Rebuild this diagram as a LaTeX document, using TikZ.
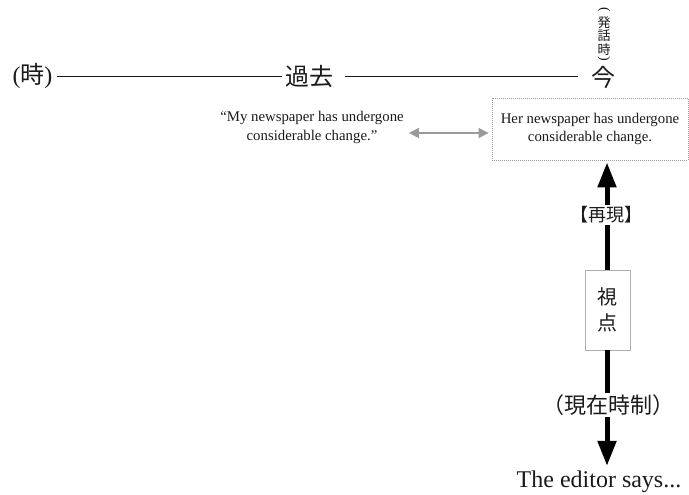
\documentclass[tikz,border=0pt]{standalone}
\usepackage{fontspec}
\setmainfont{Liberation Serif}
\newfontfamily\jp{Noto Sans CJK JP}
\usetikzlibrary{arrows.meta}
\definecolor{ink}{HTML}{1A1A1A}
\definecolor{soft}{HTML}{9A9A9A}
\tikzset{
  x=1pt, y=-1pt,
  every node/.style={text=ink},
  bigjp/.style={font=\jp\fontsize{24}{28}\selectfont, inner sep=3pt},
  sentence/.style={font=\fontsize{14.8}{18.5}\selectfont, align=center, inner sep=2pt},
  vparen/.style={font=\fontsize{14}{14}\selectfont, inner sep=0pt, rotate=-90},
  timeline/.style={draw=ink, line width=0.9pt},
  compare/.style={draw=soft, line width=1.6pt,
    {Triangle[length=10pt,width=10pt]}-{Triangle[length=10pt,width=10pt]}},
  bold arrow/.style={draw=black, line width=5pt,
    -{Triangle[length=25pt,width=18pt]}},
  tag/.style={fill=white, inner sep=2pt},
}
\begin{document}
\begin{tikzpicture}
\useasboundingbox (0,0) rectangle (689,495);

% time axis
\node[font=\fontsize{24}{28}\selectfont, inner sep=4pt] (ji) at (32.5,76) {(\jp 時\rmfamily)};
\node[bigjp] (kako) at (309,76) {過去};
\node[bigjp] (ima) at (603,77) {今};
% vertical annotation above the "now" mark
\node[font=\jp\fontsize{13}{13.5}\selectfont, align=center, inner sep=0pt] (hatsuwa) at (604,36)
  {発\\話\\時};
\node[vparen] (hopen) at (604,10) {(};
\node[vparen] (hclose) at (604,58.5) {)};
\draw[timeline] (ji.east) -- (kako.west);
\draw[timeline, shorten <=9pt, shorten >=10pt] (kako.east) -- (ima.west |- kako.east);

% the two sentences
\node[sentence] (quote) at (312,127.5) {“My newspaper has undergone\\considerable change.”};
\node[sentence, draw=soft, line width=0.9pt, dash pattern=on 1pt off 1pt,
      minimum width=196pt, minimum height=62pt] (her) at (590,129)
  {Her newspaper has undergone\\considerable change.};
\draw[compare] (quote.east |- 0,133) ++(3,0) -- ([xshift=-3pt]her.west |- 0,133);

% point of view
\node[draw=soft!80, line width=0.8pt, minimum width=45pt, minimum height=80pt,
      font=\jp\fontsize{20}{26}\selectfont, align=center] (shiten) at (607.5,310) {視\\点};
\node[font=\fontsize{24}{28}\selectfont, inner sep=3pt] (editor) at (599,482) {The editor says...};

\draw[bold arrow, shorten >=2pt] (shiten.north -| 607,0) -- (her.south -| 607,0);
\draw[bold arrow, shorten >=2pt] (shiten.south -| 607,0) -- (editor.north -| 607,0);

\node[tag, font=\jp\fontsize{18}{20}\selectfont] (saigen) at (606,215) {【再現】};
\node[tag, font=\jp\fontsize{22}{24}\selectfont] (genzai) at (608,405) {（現在時制）};
\end{tikzpicture}
\end{document}
